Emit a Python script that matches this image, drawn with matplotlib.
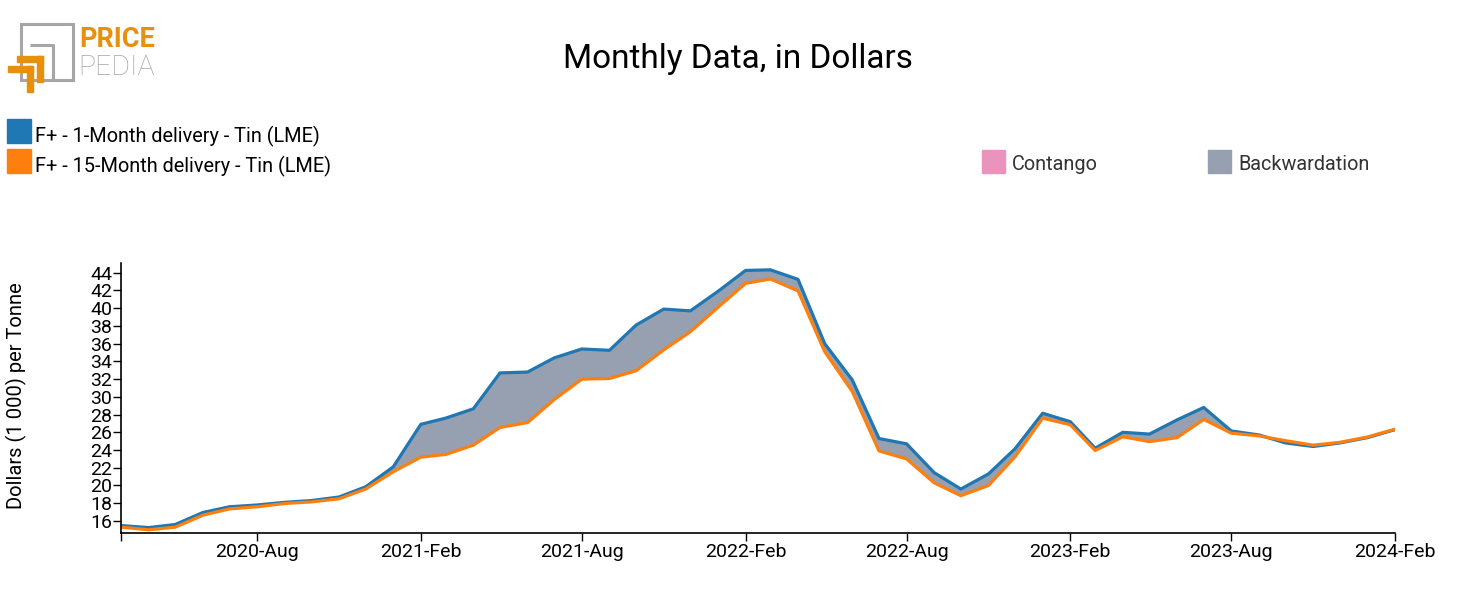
import numpy as np
import pandas as pd
import matplotlib
matplotlib.use("Agg")
import matplotlib.pyplot as plt
from matplotlib.patches import Rectangle

plt.rcParams['font.family'] = ['Roboto', 'DejaVu Sans']

months = pd.date_range("2020-03-01", "2024-02-01", freq="MS")

# 1-month delivery (thousand $ per tonne)
one_month = [15.48, 15.25, 15.6, 16.95, 17.6, 17.8, 18.1, 18.3, 18.7, 19.85,
             22.1, 26.9, 27.6, 28.65, 32.7, 32.8, 34.4, 35.4, 35.25, 38.1, 39.9, 39.7,
             41.9, 44.26, 44.33, 43.25, 36.0, 31.9, 25.3, 24.7, 21.45, 19.6, 21.3, 24.15,
             28.15, 27.2, 24.2, 26.0, 25.8, 27.4, 28.8, 26.15, 25.7, 24.8, 24.4, 24.8,
             25.4, 26.3]

# 15-month delivery
fifteen_month = [15.3, 15.0, 15.3, 16.65, 17.36, 17.6, 17.97, 18.15, 18.5, 19.6,
                 21.55, 23.2, 23.5, 24.55, 26.55, 27.1, 29.7, 32.0, 32.07, 32.95, 35.3, 37.35,
                 40.1, 42.8, 43.3, 41.95, 35.1, 30.6, 23.9, 23.0, 20.3, 18.85, 20.0, 23.25,
                 27.6, 26.85, 23.95, 25.5, 24.95, 25.4, 27.45, 25.9, 25.6, 25.05, 24.55, 24.87,
                 25.47, 26.35]

series_names = ["F+ - 1-Month delivery - Tin (LME)", "F+ - 15-Month delivery - Tin (LME)"]
yticks = list(range(16, 45, 2))
xticks = ["2020-03-01", "2020-08-01", "2021-02-01", "2021-08-01", "2022-02-01",
          "2022-08-01", "2023-02-01", "2023-08-01", "2024-02-01"]

BLUE = "#1f77b4"
ORANGE = "#ff7f0e"
BACKW = "#97a0b0"
CONT = "#e993bd"

W, H = 1477, 615
fig = plt.figure(figsize=(W / 100, H / 100), dpi=100)

ax = fig.add_axes([121 / W, 1 - 533 / H, (1395 - 121) / W, (533 - 263) / H])
a = np.array(one_month)
b = np.array(fifteen_month)
ax.fill_between(months, a, b, where=a >= b, interpolate=True, color=BACKW, lw=0)
ax.fill_between(months, a, b, where=a < b, interpolate=True, color=CONT, lw=0)
ax.plot(months, one_month, color=BLUE, lw=2.3)
ax.plot(months, fifteen_month, color=ORANGE, lw=2.3)

ax.set_xlim(months[0], months[-1])
ax.set_ylim(14.64, 45.1)
ax.set_yticks(yticks)
ax.set_xticks(pd.to_datetime(xticks))
ax.set_xticklabels([""] + [d.strftime("%Y-%b") for d in pd.to_datetime(xticks[1:])])
ax.tick_params(axis='both', labelsize=14, length=5.5, width=1, direction='out')
ax.tick_params(axis='y', pad=1)
ax.tick_params(axis='x', pad=2)
for s in ["top", "right"]:
    ax.spines[s].set_visible(False)
for s in ["left", "bottom"]:
    ax.spines[s].set_linewidth(1.2)

# overlay in pixel coords for title, legends and logo
ov = fig.add_axes([0, 0, 1, 1], zorder=-1)
ov.set_xlim(0, W)
ov.set_ylim(H, 0)
ov.axis("off")

ov.text(738, 68, "Monthly Data, in Dollars", fontsize=24, ha="center", va="baseline")
ov.text(16, 396, "Dollars (1 000) per Tonne", fontsize=14.5, rotation=90,
        ha="center", va="center")

# legend: series
for i, (name, col) in enumerate(zip(series_names, [BLUE, ORANGE])):
    y0 = 119 + i * 30
    ov.add_patch(Rectangle((7, y0), 24, 24, color=col))
    ov.text(35, y0 + 23, name, fontsize=14.3, va="baseline")

# legend: contango / backwardation
for label, col, x0 in [("Contango", CONT, 982), ("Backwardation", BACKW, 1208)]:
    ov.add_patch(Rectangle((x0, 150), 23, 23, color=col))
    ov.text(x0 + 30, 169.5, label, fontsize=14.3, va="baseline", color="#333333")

# logo
LOGO_OR = "#e8900c"
LOGO_GR = "#a6a6a6"
ov.add_patch(Rectangle((21, 24), 52, 56, fill=False, ec=LOGO_GR, lw=2.2))
ov.plot([30, 52.5, 52.5], [45, 45, 80], color=LOGO_GR, lw=2.2, solid_capstyle='butt')
ov.add_patch(Rectangle((17, 56), 26, 6, color=LOGO_OR))
ov.add_patch(Rectangle((37, 56), 6, 26, color=LOGO_OR))
ov.add_patch(Rectangle((8, 66), 25, 6, color=LOGO_OR))
ov.add_patch(Rectangle((27, 66), 6, 26, color=LOGO_OR))
ov.text(79, 47, "PRICE", fontsize=19.5, fontweight="bold", color=LOGO_OR, va="baseline")
ov.text(78, 75, "PEDIA", fontsize=20.5, fontweight="light", color=LOGO_GR, va="baseline")

fig.savefig("out.png", dpi=100)
